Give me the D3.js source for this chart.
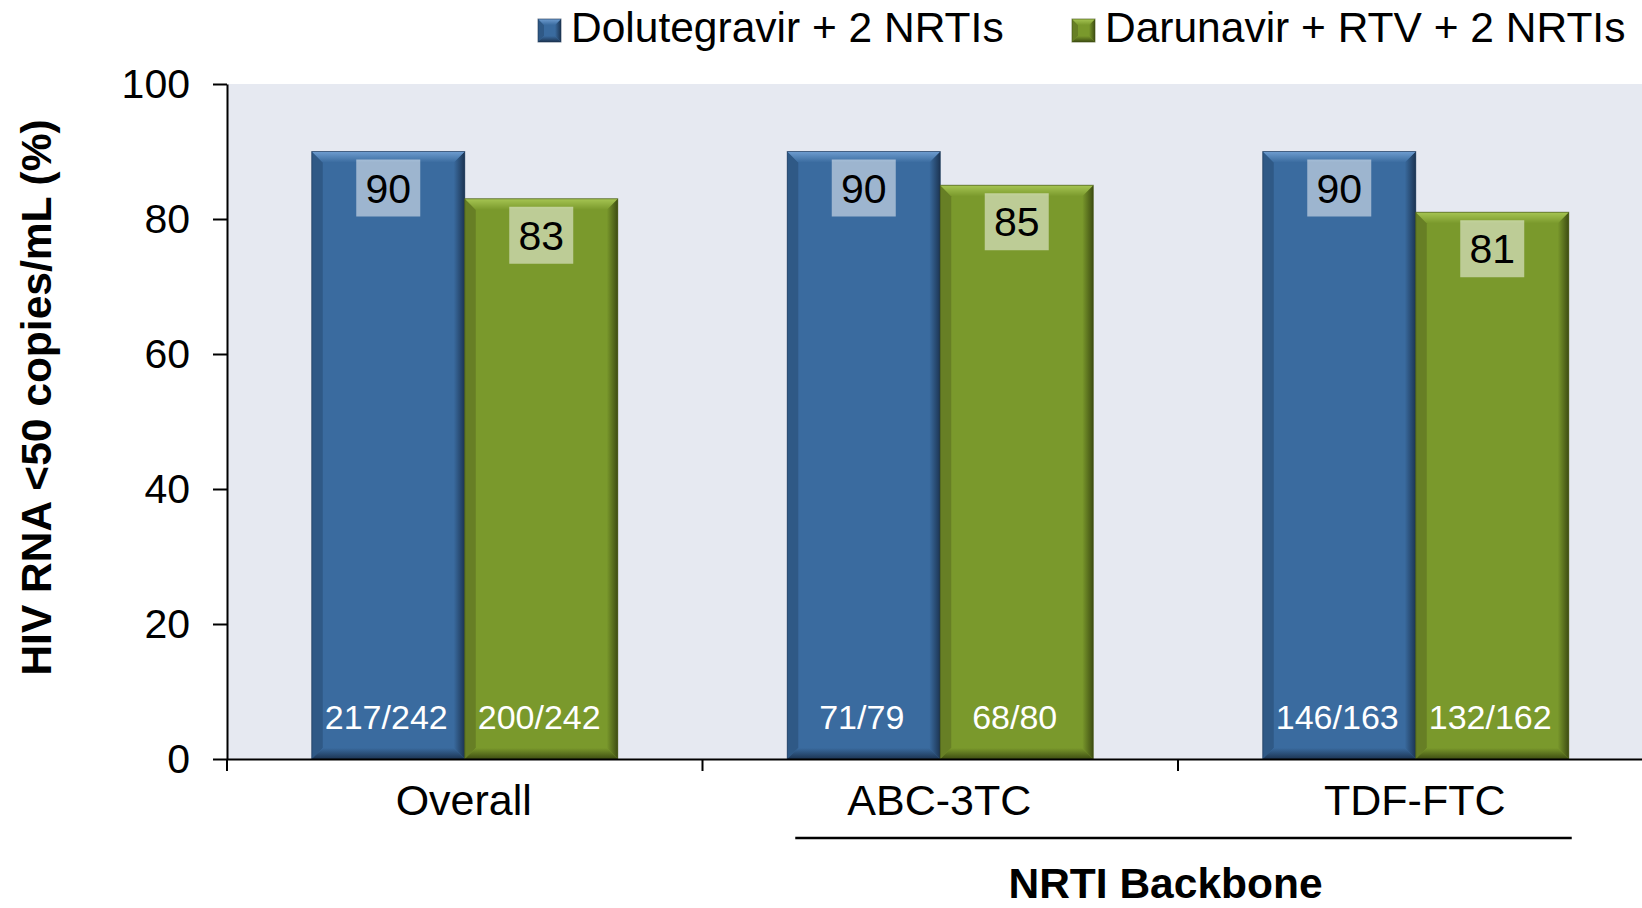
<!DOCTYPE html>
<html>
<head>
<meta charset="utf-8">
<script src="https://cdn.jsdelivr.net/npm/d3@7"></script>
<style>
  body { margin: 0; background: #fff; }
  svg { display: block; font-family: "Liberation Sans", Arial, sans-serif; }
</style>
</head>
<body>
<script>
const w = 1642;
const h = 908;

const categories = ["Overall", "ABC-3TC", "TDF-FTC"];
const seriesNames = ["Dolutegravir + 2 NRTIs", "Darunavir + RTV + 2 NRTIs"];
const dtgValues = [90, 90, 90];
const drvValues = [83, 85, 81];
const dtgCounts = ["217/242", "71/79", "146/163"];
const drvCounts = ["200/242", "68/80", "132/162"];
const yTicks = [0, 20, 40, 60, 80, 100];
const yTitle = "HIV RNA <50 copies/mL (%)";
const backboneTitle = "NRTI Backbone";
const backboneCats = ["ABC-3TC", "TDF-FTC"];

const colors = [
    { main: "#3a6b9f", light: "#6f9dd0", side: "#2f5986", dark: "#1c3452" },
    { main: "#7a992c", light: "#a6c553", side: "#677f25", dark: "#3e4d12" }
];

const plotLeft = 227, plotTop = 84, plotBottom = 759;
const step = 475.5;

const svg = d3.select("body").append("svg").attr("width", w).attr("height", h);

const xScale = d3.scaleBand().domain(categories).range([plotLeft, plotLeft + step * categories.length]);
const inner = d3.scaleBand().domain([0, 1]).range([0, xScale.bandwidth()]).paddingOuter(0.554);
const yScale = d3.scaleLinear().domain([0, 100]).range([plotBottom, plotTop]);

// plot background
svg.append("rect")
    .attr("x", plotLeft).attr("y", plotTop)
    .attr("width", w - plotLeft).attr("height", plotBottom - plotTop)
    .attr("fill", "#e6e9f1");

// gradients for bevels
const defs = svg.append("defs");
colors.forEach(function (c, i) {
    const gTop = defs.append("linearGradient").attr("id", "top" + i)
        .attr("x1", 0).attr("y1", 0).attr("x2", 0).attr("y2", 1);
    gTop.append("stop").attr("offset", 0).attr("stop-color", c.light);
    gTop.append("stop").attr("offset", 1).attr("stop-color", c.main);
    const gRight = defs.append("linearGradient").attr("id", "right" + i)
        .attr("x1", 0).attr("y1", 0).attr("x2", 1).attr("y2", 0);
    gRight.append("stop").attr("offset", 0).attr("stop-color", c.main);
    gRight.append("stop").attr("offset", 1).attr("stop-color", c.dark);
    const gBot = defs.append("linearGradient").attr("id", "bot" + i)
        .attr("x1", 0).attr("y1", 0).attr("x2", 0).attr("y2", 1);
    gBot.append("stop").attr("offset", 0).attr("stop-color", c.main);
    gBot.append("stop").attr("offset", 1).attr("stop-color", c.dark);
});

const bars = [];
categories.forEach(function (cat, i) {
    bars.push({ cat: cat, s: 0, v: dtgValues[i], n: dtgCounts[i] });
    bars.push({ cat: cat, s: 1, v: drvValues[i], n: drvCounts[i] });
});

function bevel(g, x0, y0, x1, y1, b, s) {
    const c = colors[s];
    g.append("rect").attr("x", x0).attr("y", y0)
        .attr("width", x1 - x0).attr("height", y1 - y0).attr("fill", c.main);
    const pts = function (a) { return a.map(function (p) { return p.join(","); }).join(" "); };
    g.append("polygon").attr("points", pts([[x0, y0], [x0 + b, y0 + b], [x0 + b, y1 - b], [x0, y1]]))
        .attr("fill", c.side);
    g.append("polygon").attr("points", pts([[x1, y0], [x1 - b, y0 + b], [x1 - b, y1 - b], [x1, y1]]))
        .attr("fill", "url(#right" + s + ")");
    g.append("polygon").attr("points", pts([[x0, y1], [x0 + b, y1 - b], [x1 - b, y1 - b], [x1, y1]]))
        .attr("fill", "url(#bot" + s + ")");
    g.append("polygon").attr("points", pts([[x0, y0], [x1, y0], [x1 - b, y0 + b], [x0 + b, y0 + b]]))
        .attr("fill", "url(#top" + s + ")");
    g.append("rect").attr("x", x0).attr("y", y0)
        .attr("width", x1 - x0).attr("height", y1 - y0)
        .attr("fill", "none").attr("stroke", c.dark).attr("stroke-width", 1).attr("stroke-opacity", 0.6);
}

const barG = svg.append("g");
bars.forEach(function (d) {
    const x0 = xScale(d.cat) + inner(d.s);
    const x1 = x0 + inner.bandwidth();
    const g = barG.append("g");
    bevel(g, x0, yScale(d.v), x1, yScale(0), 11, d.s);
    const cx = (x0 + x1) / 2;
    // value box
    g.append("rect")
        .attr("x", cx - 32).attr("y", yScale(d.v) + 8)
        .attr("width", 64).attr("height", 57)
        .attr("fill", "#fff").attr("fill-opacity", 0.5);
    g.append("text")
        .attr("x", cx).attr("y", yScale(d.v) + 51)
        .attr("text-anchor", "middle")
        .attr("font-size", 41).attr("fill", "#000")
        .text(d.v);
    g.append("text")
        .attr("x", cx - 2).attr("y", yScale(0) - 30)
        .attr("text-anchor", "middle")
        .attr("font-size", 34).attr("fill", "#fff")
        .text(d.n);
});

// y axis
const yAxis = d3.axisLeft(yScale).tickValues(yTicks).tickSize(14).tickSizeOuter(0).tickPadding(23);
const yG = svg.append("g").attr("transform", "translate(" + plotLeft + ",0)").call(yAxis);
yG.select(".domain").attr("stroke", "#000").attr("stroke-width", 2);
yG.selectAll(".tick line").attr("stroke", "#000").attr("stroke-width", 2);
yG.selectAll("text").attr("font-size", 41).attr("font-family", "Liberation Sans, Arial, sans-serif").attr("fill", "#000");

// x axis
const xAxis = d3.axisBottom(xScale).tickSize(0).tickSizeOuter(0).tickPadding(25);
const xG = svg.append("g").attr("transform", "translate(0," + plotBottom + ")").call(xAxis);
xG.select(".domain").attr("stroke", "#000").attr("stroke-width", 2);
xG.selectAll(".tick text")
    .attr("font-size", 43).attr("font-family", "Liberation Sans, Arial, sans-serif").attr("fill", "#000")
    .attr("dx", -1);
xG.selectAll(".sep")
    .data(categories)
    .enter()
    .append("line")
    .attr("class", "sep")
    .attr("x1", function (d) { return xScale(d); })
    .attr("x2", function (d) { return xScale(d); })
    .attr("y1", 0).attr("y2", 12)
    .attr("stroke", "#000").attr("stroke-width", 2);

// y title
svg.append("text")
    .attr("transform", "translate(51," + ((plotTop + plotBottom) / 2 - 24) + ")rotate(-90)")
    .attr("text-anchor", "middle")
    .attr("font-size", 42.5).attr("font-weight", "bold")
    .text(yTitle);

// NRTI backbone bracket
const bx0 = xScale(backboneCats[0]) + inner(0) + 8;
const bx1 = xScale(backboneCats[1]) + inner(1) + inner.bandwidth() + 3;
svg.append("line")
    .attr("x1", bx0).attr("x2", bx1).attr("y1", 838).attr("y2", 838)
    .attr("stroke", "#000").attr("stroke-width", 2.5);
svg.append("text")
    .attr("x", (bx0 + bx1) / 2 - 18).attr("y", 898)
    .attr("text-anchor", "middle")
    .attr("font-size", 42.5).attr("font-weight", "bold")
    .text(backboneTitle);

// legend
const legendX = [538, 1072];
seriesNames.forEach(function (name, i) {
    const g = svg.append("g").attr("transform", "translate(" + legendX[i] + ",19)");
    bevel(g, 0, 0, 23, 23, 6, i);
    g.append("text")
        .attr("x", 33).attr("y", 23)
        .attr("font-size", 42.5)
        .text(name);
});
</script>
</body>
</html>
